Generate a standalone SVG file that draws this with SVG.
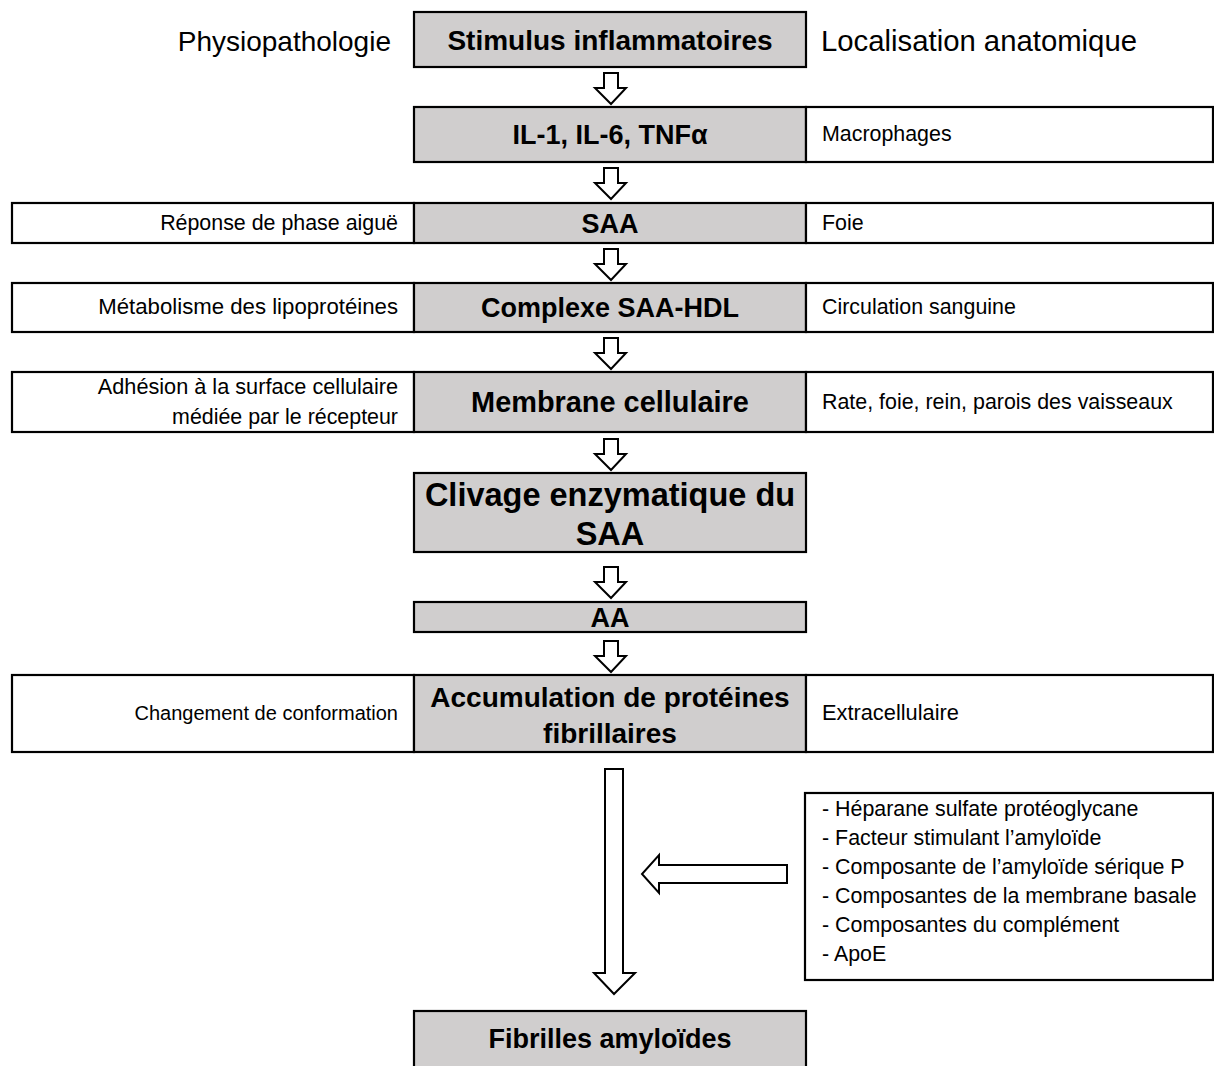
<svg xmlns="http://www.w3.org/2000/svg" width="1214" height="1066" viewBox="0 0 1214 1066">
<style>
.bg{fill:#ffffff}
.mid{fill:#d0cece;stroke:#000;stroke-width:2.2}
.side{fill:#ffffff;stroke:#000;stroke-width:2.2}
.arr{fill:#ffffff;stroke:#000;stroke-width:2;stroke-linejoin:miter}
.hd{font-family:"Liberation Sans",Arial,sans-serif;font-size:28px;fill:#000}
.b{font-family:"Liberation Sans",Arial,sans-serif;font-size:27px;font-weight:bold;fill:#000;text-anchor:middle}
.s{font-family:"Liberation Sans",Arial,sans-serif;font-size:21.4px;fill:#000}
.r{text-anchor:end}
</style>
<rect class="bg" x="0" y="0" width="1214" height="1066"/>
<g id="headers">
<text class="hd r" x="391" y="51">Physiopathologie</text>
<text class="hd" x="821" y="51" style="font-size:29.3px">Localisation anatomique</text>
</g>
<g id="n-stimulus">
<rect class="mid" x="414" y="12" width="392" height="55"/>
<text class="b" x="610" y="50" style="font-size:28px">Stimulus inflammatoires</text>
</g>
<g id="n-il">
<rect class="mid" x="414" y="107" width="392" height="55"/>
<text class="b" x="610" y="144">IL-1, IL-6, TNFα</text>
<rect class="side" x="806" y="107" width="407" height="55"/>
<text class="s" x="822" y="141">Macrophages</text>
</g>
<g id="n-saa">
<rect class="side" x="12" y="203" width="402" height="40"/>
<text class="s r" x="398" y="230">Réponse de phase aiguë</text>
<rect class="mid" x="414" y="203" width="392" height="40"/>
<text class="b" x="610" y="233">SAA</text>
<rect class="side" x="806" y="203" width="407" height="40"/>
<text class="s" x="822" y="230">Foie</text>
</g>
<g id="n-complexe">
<rect class="side" x="12" y="283" width="402" height="49"/>
<text class="s r" x="398" y="314" style="font-size:22.2px">Métabolisme des lipoprotéines</text>
<rect class="mid" x="414" y="283" width="392" height="49"/>
<text class="b" x="610" y="317">Complexe SAA-HDL</text>
<rect class="side" x="806" y="283" width="407" height="49"/>
<text class="s" x="822" y="314">Circulation sanguine</text>
</g>
<g id="n-membrane">
<rect class="side" x="12" y="372" width="402" height="60"/>
<text class="s r" x="398" y="394" style="font-size:21.7px">Adhésion à la surface cellulaire</text>
<text class="s r" x="398" y="424">médiée par le récepteur</text>
<rect class="mid" x="414" y="372" width="392" height="60"/>
<text class="b" x="610" y="412" style="font-size:28.9px">Membrane cellulaire</text>
<rect class="side" x="806" y="372" width="407" height="60"/>
<text class="s" x="822" y="409">Rate, foie, rein, parois des vaisseaux</text>
</g>
<g id="n-clivage">
<rect class="mid" x="414" y="473" width="392" height="79"/>
<text class="b" x="610" y="506" style="font-size:32.5px">Clivage enzymatique du</text>
<text class="b" x="610" y="545" style="font-size:32.5px">SAA</text>
</g>
<g id="n-aa">
<rect class="mid" x="414" y="602" width="392" height="30"/>
<text class="b" x="610" y="627">AA</text>
</g>
<g id="n-accumulation">
<rect class="side" x="12" y="675" width="402" height="77"/>
<text class="s r" x="398" y="720" style="font-size:20px">Changement de conformation</text>
<rect class="mid" x="414" y="675" width="392" height="77"/>
<text class="b" x="610" y="707" style="font-size:28px">Accumulation de protéines</text>
<text class="b" x="610" y="743" style="font-size:28px">fibrillaires</text>
<rect class="side" x="806" y="675" width="407" height="77"/>
<text class="s" x="822" y="720" style="font-size:21.8px">Extracellulaire</text>
</g>
<g id="n-facteurs">
<rect class="side" x="805" y="793" width="408" height="187"/>
<text class="s" x="822" y="816">- Héparane sulfate protéoglycane</text>
<text class="s" x="822" y="845">- Facteur stimulant l’amyloïde</text>
<text class="s" x="822" y="874">- Composante de l’amyloïde sérique P</text>
<text class="s" x="822" y="903">- Composantes de la membrane basale</text>
<text class="s" x="822" y="932">- Composantes du complément</text>
<text class="s" x="822" y="961">- ApoE</text>
</g>
<g id="n-fibrilles">
<rect class="mid" x="414" y="1011" width="392" height="60"/>
<text class="b" x="610" y="1048">Fibrilles amyloïdes</text>
</g>
<g id="connectors">
<path class="arr" d="M604,73 H618 V88 H626 L611,104 L595,88 H604 Z"/>
<path class="arr" d="M604,168 H618 V183 H626 L611,199 L595,183 H604 Z"/>
<path class="arr" d="M604,249 H618 V264 H626 L611,280 L595,264 H604 Z"/>
<path class="arr" d="M604,338 H618 V353 H626 L611,369 L595,353 H604 Z"/>
<path class="arr" d="M604,439 H618 V454 H626 L611,470 L595,454 H604 Z"/>
<path class="arr" d="M604,567 H618 V582 H626 L611,598 L595,582 H604 Z"/>
<path class="arr" d="M604,641 H618 V656 H626 L611,672 L595,656 H604 Z"/>
<path class="arr" d="M605,769 H623 V973 H635 L614,994 L594,973 H605 Z"/>
<path class="arr" d="M787,865 V883 H659 V893 L642,874 L659,855 V865 Z"/>
</g>
</svg>
